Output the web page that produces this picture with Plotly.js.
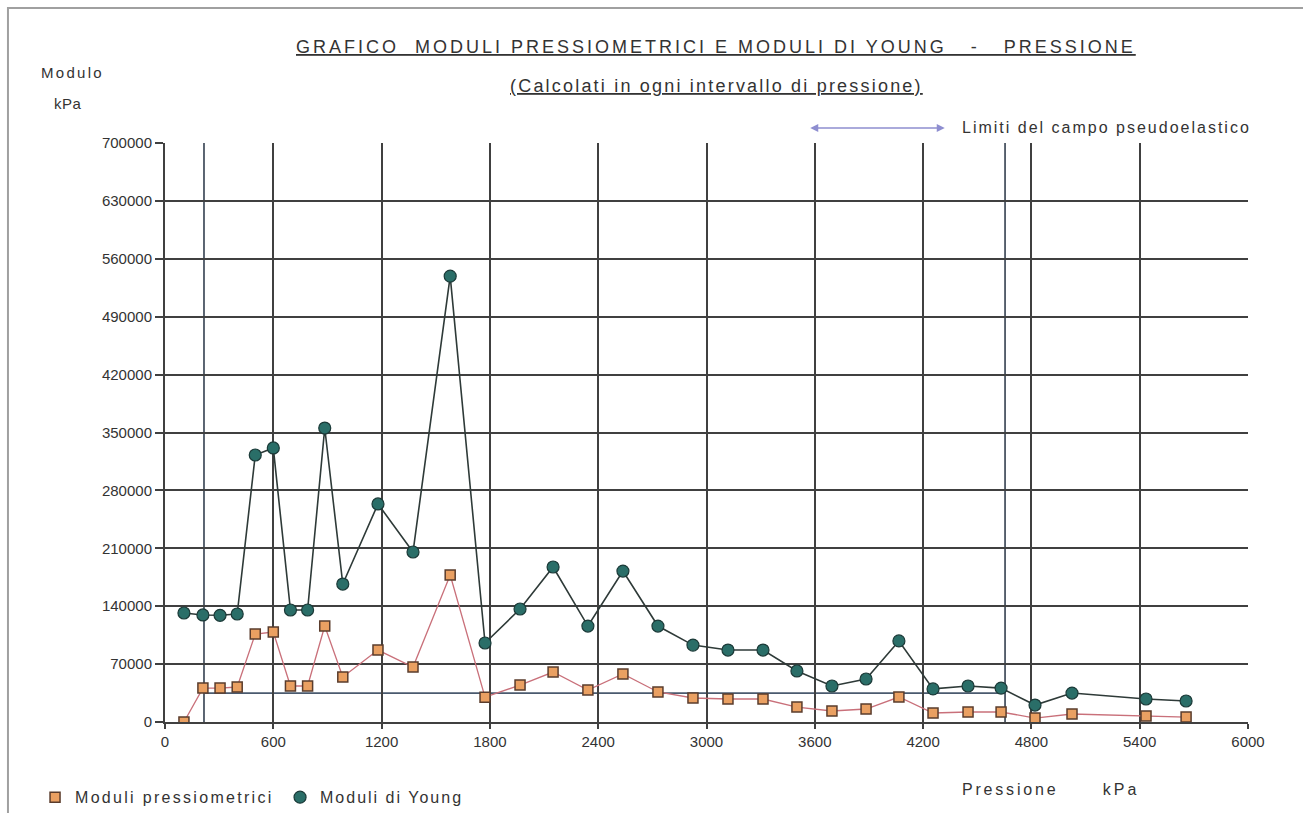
<!DOCTYPE html>
<html>
<head>
<meta charset="utf-8">
<script src="https://cdn.plot.ly/plotly-3.0.1.min.js"></script>
<style>
html,body{margin:0;padding:0;background:#fff;}
#chart{width:1303px;height:813px;}
</style>
</head>
<body>
<div id="chart"></div>
<script>
// Pressure (kPa) at each interval
const pressione = [105, 210, 305, 400, 500, 600, 695, 790, 885, 985, 1180, 1374, 1580, 1773, 1967, 2150, 2343, 2537, 2731, 2925, 3119, 3313, 3501, 3695, 3884, 4066, 4255, 4449, 4632, 4820, 5025, 5435, 5657];
// Moduli pressiometrici (kPa)
const moduliPress = [0, 41000, 41000, 42300, 106400, 108800, 43500, 43500, 116000, 54400, 87000, 66500, 177700, 30000, 44700, 60400, 38700, 58000, 36300, 29000, 27800, 27800, 18100, 13300, 15700, 30200, 10900, 12100, 12100, 4800, 9700, 7300, 6000];
// Moduli di Young (kPa)
const moduliYoung = [131800, 129400, 129000, 130600, 322800, 331300, 135400, 135400, 355400, 166800, 263600, 205500, 539000, 95500, 136600, 187400, 116000, 182500, 116000, 93000, 87000, 87000, 61700, 43500, 52000, 98000, 40000, 43500, 41000, 20500, 35000, 27800, 25400];
// Limits of the pseudo-elastic range (kPa)
const limitiPressione = [216, 4654];
const limitiModulo = [35000];
// Axis ticks
const xTicks = [0, 600, 1200, 1800, 2400, 3000, 3600, 4200, 4800, 5400, 6000];
const yTicks = [0, 70000, 140000, 210000, 280000, 350000, 420000, 490000, 560000, 630000, 700000];

const FONT = 'Liberation Sans, Arial, sans-serif';
function sp(t, px) { return '<span style="letter-spacing:' + px + 'px">' + t + '</span>'; }

const pressMarker = {symbol: 'square', size: 10, color: '#eaa062', line: {color: '#5a3c2c', width: 1.5}};
const youngMarker = {symbol: 'circle', size: 12, color: '#2a6e68', line: {color: '#1b3a38', width: 1.2}};

const traces = [
  {
    x: pressione, y: moduliPress, name: 'Moduli pressiometrici', showlegend: false,
    mode: 'lines+markers', type: 'scatter',
    line: {color: '#c9707a', width: 1.3}, marker: pressMarker
  },
  {
    x: pressione, y: moduliYoung, name: 'Moduli di Young', showlegend: false,
    mode: 'lines+markers', type: 'scatter',
    line: {color: '#2e3a38', width: 1.6}, marker: youngMarker
  },
  // legend entries (marker only, as in the reference)
  {x: [null], y: [null], name: sp('Moduli pressiometrici', 2.3), mode: 'markers', type: 'scatter', marker: pressMarker},
  {x: [null], y: [null], name: sp('Moduli di Young', 2.0), mode: 'markers', type: 'scatter', marker: youngMarker}
];

const gridColor = '#404040';
const shapes = [];
limitiPressione.forEach(function (p) {
  shapes.push({type: 'line', xref: 'x', yref: 'y', x0: p, x1: p, y0: 0, y1: yTicks[yTicks.length - 1],
    line: {color: '#4a5563', width: 1.8}, layer: 'below'});
});
shapes.push({type: 'line', xref: 'x', yref: 'y', x0: limitiPressione[0], x1: limitiPressione[1],
  y0: limitiModulo[0], y1: limitiModulo[0], line: {color: '#4a5a6e', width: 1.8}, layer: 'below'});
// outer frame
shapes.push({type: 'rect', xref: 'paper', yref: 'paper', x0: -0.145, x1: 1.08, y0: -0.25, y1: 1.233,
  line: {color: '#a0a0a0', width: 2}, fillcolor: 'rgba(0,0,0,0)'});

const annotations = [
  {text: '<u>' + sp('GRAFICO  MODULI PRESSIOMETRICI E MODULI DI YOUNG   -   PRESSIONE', 3.0) + '</u>', xref: 'paper', yref: 'paper',
    x: 0.509, y: 1.166, showarrow: false, font: {family: FONT, size: 18, color: '#333'}, xanchor: 'center', yanchor: 'middle'},
  {text: '<u>' + sp('(Calcolati in ogni intervallo di pressione)', 2.2) + '</u>', xref: 'paper', yref: 'paper',
    x: 0.509, y: 1.098, showarrow: false, font: {family: FONT, size: 18, color: '#333'}, xanchor: 'center', yanchor: 'middle'},
  {text: sp('Modulo', 2.3), xref: 'paper', yref: 'paper', x: -0.085, y: 1.121, showarrow: false,
    font: {family: FONT, size: 15, color: '#333'}, xanchor: 'center', yanchor: 'middle'},
  {text: sp('kPa', 0.5), xref: 'paper', yref: 'paper', x: -0.09, y: 1.069, showarrow: false,
    font: {family: FONT, size: 15, color: '#333'}, xanchor: 'center', yanchor: 'middle'},
  {text: sp('Limiti del campo pseudoelastico', 2.0), xref: 'paper', yref: 'paper', x: 0.734, y: 1.026, showarrow: false,
    font: {family: FONT, size: 16, color: '#333'}, xanchor: 'left', yanchor: 'middle'},
  {text: ' ', xref: 'paper', yref: 'paper', x: 0.72, y: 1.026, ax: -138, ay: 0, axref: 'pixel', ayref: 'pixel',
    showarrow: true, arrowside: 'end+start', arrowhead: 2, arrowsize: 1, arrowwidth: 1.6, arrowcolor: '#8e8ed0'},
  {text: sp('Pressione', 2.8) + '          ' + sp('kPa', 3), xref: 'paper', yref: 'paper', x: 0.734, y: -0.117, showarrow: false,
    font: {family: FONT, size: 16, color: '#333'}, xanchor: 'left', yanchor: 'middle'}
];

const layout = {
  width: 1303, height: 813,
  margin: {l: 165, r: 55, t: 143, b: 91, autoexpand: false},
  paper_bgcolor: '#ffffff', plot_bgcolor: '#ffffff',
  font: {family: FONT, size: 14, color: '#333'},
  showlegend: true,
  legend: {orientation: 'h', x: -0.12, y: -0.13, xanchor: 'left', yanchor: 'middle',
    entrywidth: 200, entrywidthmode: 'pixels', font: {family: FONT, size: 16, color: '#333'},
    bgcolor: 'rgba(0,0,0,0)', itemclick: false},
  xaxis: {
    range: [0, 6000], tickvals: xTicks, ticktext: xTicks.map(String),
    showgrid: true, gridcolor: gridColor, gridwidth: 2,
    zeroline: false, showline: true, linecolor: gridColor, linewidth: 2,
    ticks: 'outside', ticklen: 5, tickcolor: gridColor, tickwidth: 2,
    tickfont: {family: FONT, size: 15, color: '#333'}, mirror: false
  },
  yaxis: {
    range: [0, 700000], tickvals: yTicks, ticktext: yTicks.map(String),
    showgrid: true, gridcolor: gridColor, gridwidth: 2,
    zeroline: false, showline: true, linecolor: gridColor, linewidth: 2,
    ticks: 'outside', ticklen: 8, tickcolor: gridColor, tickwidth: 2,
    tickfont: {family: FONT, size: 15, color: '#333'}
  },
  shapes: shapes,
  annotations: annotations
};

Plotly.newPlot('chart', traces, layout, {displayModeBar: false, staticPlot: true});
</script>
</body>
</html>
